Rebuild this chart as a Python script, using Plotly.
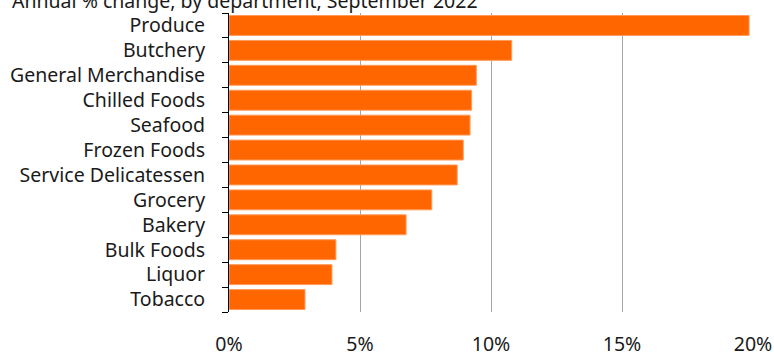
import plotly.graph_objects as go

departments = ["Produce", "Butchery", "General Merchandise", "Chilled Foods", "Seafood",
               "Frozen Foods", "Service Delicatessen", "Grocery", "Bakery", "Bulk Foods",
               "Liquor", "Tobacco"]
annual_change = [19.85, 10.79, 9.44, 9.26, 9.20, 8.94, 8.71, 7.74, 6.76, 4.08, 3.93, 2.90]
x_ticks = [0, 5, 10, 15, 20]
x_tick_labels = ["0%", "5%", "10%", "15%", "20%"]
title_text = "Annual % change, by department, September 2022"

FONT = "Noto Sans"
FS = 19.5

fig = go.Figure(go.Bar(
    x=annual_change,
    y=departments,
    orientation="h",
    marker=dict(color="#FF6600", line=dict(color="#FF9A5A", width=1)),
    width=0.8,
))

fig.update_layout(
    width=774, height=352,
    margin=dict(l=229, r=21, t=13, b=40),
    paper_bgcolor="white", plot_bgcolor="white",
    showlegend=False,
    font=dict(family=FONT, size=FS, color="#1a1a1a"),
    annotations=[dict(
        text=title_text, xref="paper", yref="paper", x=(10 - 229) / 524, y=1.0 - 3 / 299,
        xanchor="left", yanchor="bottom", showarrow=False,
        font=dict(family=FONT, size=FS, color="#1a1a1a"),
    )],
)

fig.update_xaxes(
    range=[0, 20], tickvals=x_ticks, ticktext=x_tick_labels,
    showgrid=True, gridcolor="#A6A6A6", gridwidth=1,
    zeroline=False, showline=False, ticks="",
    ticklabelstandoff=18, automargin=False,
    tickfont=dict(family=FONT, size=FS, color="#1a1a1a"),
    fixedrange=True,
)

fig.update_yaxes(
    categoryorder="array", categoryarray=departments[::-1],
    showline=True, linecolor="#000000", linewidth=1,
    ticks="outside", tickson="boundaries", ticklen=6, tickcolor="#000000",
    showgrid=False, automargin=False,
    tickfont=dict(family=FONT, size=FS, color="#1a1a1a"),
    ticklabelstandoff=19,
    fixedrange=True,
)

fig.write_html("out.html", config={"displayModeBar": False},
               post_script="document.body.style.margin='0';")
